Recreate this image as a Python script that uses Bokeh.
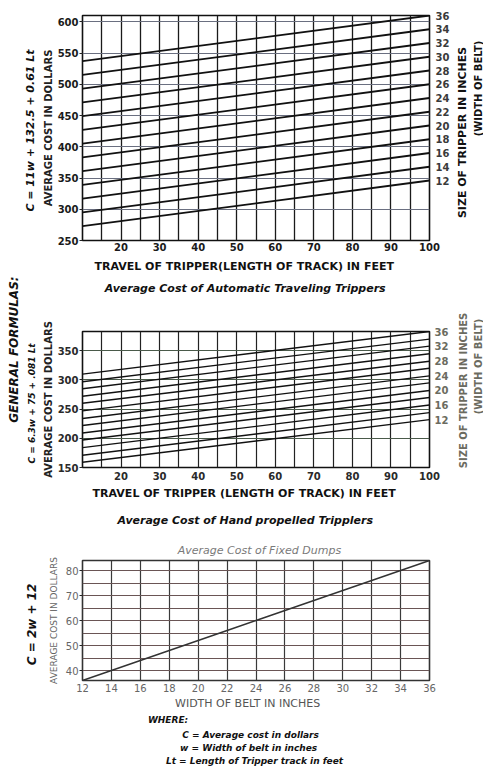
import math
from bokeh.plotting import figure
from bokeh.models import LinearAxis, FixedTicker, Range1d
from bokeh.layouts import column, row
from bokeh.embed import file_html
from bokeh.resources import INLINE

# ---------------- data ----------------
belt_widths = [12, 14, 16, 18, 20, 22, 24, 26, 28, 30, 32, 34, 36]
track_ends = [10, 100]

# Automatic traveling trippers: cost ($) at 10 ft and at 100 ft of track
auto_cost_at_10 = [273, 295, 317, 339, 361, 383, 405, 427, 449, 471, 493, 515, 537]
auto_cost_at_100 = [346, 368, 390, 412, 434, 456, 478, 500, 522, 544, 566, 588, 610]

# Hand propelled trippers
hand_cost_at_10 = [159, 171, 184, 197, 209, 222, 234, 247, 260, 272, 285, 297, 310]
hand_cost_at_100 = [232, 244, 257, 270, 282, 295, 307, 320, 332, 345, 358, 370, 383]

# Fixed dumps
dump_widths = [12, 14, 16, 18, 20, 22, 24, 26, 28, 30, 32, 34, 36]
dump_cost = [36, 40, 44, 48, 52, 56, 60, 64, 68, 72, 76, 80, 84]

# tick labels / grid positions
travel_ticks = [20, 30, 40, 50, 60, 70, 80, 90, 100]
travel_grid = [10, 15, 20, 25, 30, 35, 40, 45, 50, 55, 60, 65, 70, 75, 80, 85, 90, 95, 100]
auto_cost_ticks = [250, 300, 350, 400, 450, 500, 550, 600]
hand_cost_ticks = [150, 200, 250, 300, 350]
hand_width_labels = [12, 16, 20, 24, 28, 32, 36]
dump_cost_ticks = [40, 50, 60, 70, 80]
dump_cost_grid = [40, 45, 50, 55, 60, 65, 70, 75, 80]

W = 452          # width of the three chart figures
SW = 31          # width of the right-hand text strips
FONT = "DejaVu Sans"


def make_fig(h, xr, yr, g):
    p = figure(width=W, height=h, x_range=Range1d(*xr), y_range=Range1d(*yr),
               output_backend="svg", toolbar_location=None, title_location=None,
               min_border_left=g["L"], min_border_right=W - g["R"],
               min_border_top=g["T"] - g["top"],
               min_border_bottom=g["top"] + h - g["B"])
    p.background_fill_color = "white"
    p.border_fill_color = "white"
    p.outline_line_color = "#111111"
    p.outline_line_width = 1.6
    g["x0"], g["x1"] = xr
    g["y0"], g["y1"] = yr
    return p


def px_to_x(g, px):
    return round(g["x0"] + (px - g["L"]) * (g["x1"] - g["x0"]) / (g["R"] - g["L"]), 3)


def py_to_y(g, py):
    return round(g["y0"] + (g["B"] - py) * (g["y1"] - g["y0"]) / (g["B"] - g["T"]), 3)


def label_axis(ax, positions, texts, standoff, size, style, color, orient=None):
    overrides = {}
    for pos, t in zip(positions, texts):
        overrides[pos] = t
        overrides[str(pos)] = t
    ax.ticker = FixedTicker(ticks=list(positions))
    ax.major_label_overrides = overrides
    ax.axis_line_color = None
    ax.major_tick_line_color = None
    ax.minor_tick_line_color = None
    ax.major_tick_out = 0
    ax.major_tick_in = 0
    ax.minor_tick_out = 0
    ax.minor_tick_in = 0
    ax.major_label_standoff = standoff
    ax.major_label_text_font = FONT
    ax.major_label_text_font_size = f"{size}px"
    ax.major_label_text_font_style = style
    ax.major_label_text_color = color
    if orient is not None:
        ax.major_label_orientation = orient
    return ax


def text_axis(p, side, pos, text, standoff, size, style="bold", color="#111111", orient=None):
    ax = label_axis(LinearAxis(), [pos], [text], standoff, size, style, color, orient)
    p.add_layout(ax, side)


def style_axes(p, xticks, yticks, color, weight, standoff_x=2):
    xa = p.xaxis[0]
    xa.ticker = FixedTicker(ticks=xticks)
    xa.axis_line_color = None
    xa.major_tick_line_color = None
    xa.minor_tick_line_color = None
    xa.major_tick_out = 0
    xa.minor_tick_out = 0
    xa.major_label_standoff = standoff_x
    xa.major_label_text_font = FONT
    xa.major_label_text_font_size = "10px"
    xa.major_label_text_font_style = weight
    xa.major_label_text_color = color
    ya = p.yaxis[0]
    ya.ticker = FixedTicker(ticks=yticks)
    ya.axis_line_color = None
    ya.major_tick_line_color = "#222222"
    ya.major_tick_out = 3
    ya.major_tick_in = 0
    ya.minor_tick_line_color = None
    ya.minor_tick_out = 0
    ya.major_label_standoff = 1
    ya.major_label_text_font = FONT
    ya.major_label_text_font_size = "10px"
    ya.major_label_text_font_style = weight
    ya.major_label_text_color = color


def y_title(p, text, standoff, size, style, color):
    ya = p.yaxis[0]
    ya.axis_label = text
    ya.axis_label_standoff = standoff
    ya.axis_label_text_font = FONT
    ya.axis_label_text_font_size = f"{size}px"
    ya.axis_label_text_font_style = style
    ya.axis_label_text_color = color


def right_width_axis(p, positions, labels, color, standoff):
    ax = label_axis(LinearAxis(), positions, [str(v) for v in labels], standoff, 10, "bold", color)
    p.add_layout(ax, "right")


def text_strip(h, size_text_y, width_text_y, color, size_font):
    """Narrow strip right of a chart; its left axes carry the rotated side titles."""
    s = figure(width=SW, height=h, x_range=Range1d(0, 1), y_range=Range1d(h, 0),
               output_backend="svg", toolbar_location=None, title_location=None,
               x_axis_location=None, y_axis_location="left",
               min_border_left=SW - 1, min_border_right=0,
               min_border_top=0, min_border_bottom=0)
    s.outline_line_color = None
    s.grid.visible = False
    s.background_fill_color = "white"
    s.border_fill_color = "white"
    label_axis(s.yaxis[0], [width_text_y], ["(WIDTH OF BELT)"], 0, 10, "bold", color, "parallel")
    s.add_layout(label_axis(LinearAxis(), [size_text_y], ["SIZE OF TRIPPER IN INCHES"],
                            1, size_font, "bold", color, "parallel"), "left")
    return s


# ---------------- chart 1: automatic traveling trippers ----------------
g1 = dict(top=0, L=72, R=430, T=15, B=240)
p1 = make_fig(256, (10, 100), (250, 610), g1)
style_axes(p1, travel_ticks, auto_cost_ticks, "#1a1a1a", "bold")
p1.xgrid.ticker = FixedTicker(ticks=travel_grid)
p1.xgrid.grid_line_color = "#1a1a1a"
p1.xgrid.grid_line_width = 1.3
p1.ygrid.ticker = FixedTicker(ticks=auto_cost_ticks)
p1.ygrid.grid_line_color = "#6a6f80"
p1.ygrid.grid_line_width = 1.0
p1.segment(x0=track_ends[0], y0=auto_cost_at_10, x1=track_ends[1], y1=auto_cost_at_100,
           line_color="#111111", line_width=1.8)
y_title(p1, "AVERAGE COST IN DOLLARS", 1, 10, "bold", "#222222")
text_axis(p1, "left", py_to_y(g1, 130), "C = 11w + 132.5 + 0.61 Lt", 3, 11, "bold italic",
          orient="parallel")
right_width_axis(p1, auto_cost_at_100, belt_widths, "#3a3a3a", 6)
s1 = text_strip(256, 132, 88, "#111111", 11)

# ---------------- chart 2: hand propelled trippers ----------------
g2 = dict(top=256, L=78, R=432, T=329, B=467)
p2 = make_fig(276, (10, 100), (150, 383), g2)
style_axes(p2, travel_ticks, hand_cost_ticks, "#2a2a2a", "bold", standoff_x=4)
p2.xgrid.ticker = FixedTicker(ticks=travel_grid)
p2.xgrid.grid_line_color = "#222222"
p2.xgrid.grid_line_width = 1.2
p2.ygrid.ticker = FixedTicker(ticks=hand_cost_ticks)
p2.ygrid.grid_line_color = "#4a5a4a"
p2.ygrid.grid_line_width = 1.0
p2.segment(x0=track_ends[0], y0=hand_cost_at_10, x1=track_ends[1], y1=hand_cost_at_100,
           line_color="#111111", line_width=1.4)
# chart-1 axis title and caption sit above chart 2's frame
text_axis(p2, "above", px_to_x(g2, 244), "Average Cost of Automatic Traveling Trippers", 37, 11, "bold italic")
text_axis(p2, "above", px_to_x(g2, 243), "TRAVEL OF TRIPPER(LENGTH OF TRACK) IN FEET", 6, 11, "bold")
y_title(p2, "AVERAGE COST IN DOLLARS", 1, 10, "bold", "#222222")
text_axis(p2, "left", py_to_y(g2, 402), "C = 6.3w + 75 + .081 Lt", 2, 9, "bold italic",
          orient="parallel")
text_axis(p2, "left", py_to_y(g2, 341), "GENERAL    FORMULAS:", 3, 12, "bold italic",
          orient="parallel")
right_width_axis(p2, hand_cost_at_100[::2], hand_width_labels, "#6b6b60", 5)
text_axis(p2, "below", px_to_x(g2, 243), "TRAVEL OF TRIPPER (LENGTH OF TRACK) IN FEET", 4, 11, "bold")
text_axis(p2, "below", px_to_x(g2, 244), "Average Cost of Hand propelled Tripplers", 11, 11, "bold italic")

# ---------------- chart 3: fixed dumps ----------------
g3 = dict(top=532, L=82, R=435, T=560, B=682)
p3 = make_fig(236, (12, 36), (36, 84), g3)
p3.outline_line_color = "#333333"
style_axes(p3, dump_widths, dump_cost_ticks, "#666666", "normal", standoff_x=3)
p3.xgrid.ticker = FixedTicker(ticks=dump_widths)
p3.xgrid.grid_line_color = "#3a3a3a"
p3.xgrid.grid_line_width = 1.2
p3.ygrid.ticker = FixedTicker(ticks=dump_cost_grid)
p3.ygrid.grid_line_color = "#6a5555"
p3.ygrid.grid_line_width = 1.1
p3.line(dump_widths, dump_cost, line_color="#333333", line_width=1.5)
text_axis(p3, "above", px_to_x(g3, 262), "Average Cost of Fixed Dumps", 4, 11, "italic", "#7a7a7a")
y_title(p3, "AVERAGE COST IN DOLLARS", 4, 9, "normal", "#666666")
text_axis(p3, "left", py_to_y(g3, 625), "C = 2w + 12", 6, 12, "bold italic", orient="parallel")
text_axis(p3, "below", px_to_x(g3, 250), "WIDTH OF BELT IN INCHES", 2, 11, "normal", "#555555")
text_axis(p3, "below", px_to_x(g3, 169), "WHERE:", 2, 9, "bold italic")
text_axis(p3, "below", px_to_x(g3, 253), "C = Average cost in dollars", 2, 9, "bold italic")
text_axis(p3, "below", px_to_x(g3, 251), "w = Width of belt in inches", 0, 9, "bold italic")
text_axis(p3, "below", px_to_x(g3, 257), "Lt = Length of Tripper track in feet", 0, 9, "bold italic")

# right strip for chart 2 (covers chart 2 and chart 3 rows)
s2 = text_strip(512, 390 - 256, 366 - 256, "#6b6b60", 10)

layout = row(column(p1, p2, p3, spacing=0), column(s1, s2, spacing=0), spacing=0)
open("out.html", "w").write(file_html(layout, INLINE))
